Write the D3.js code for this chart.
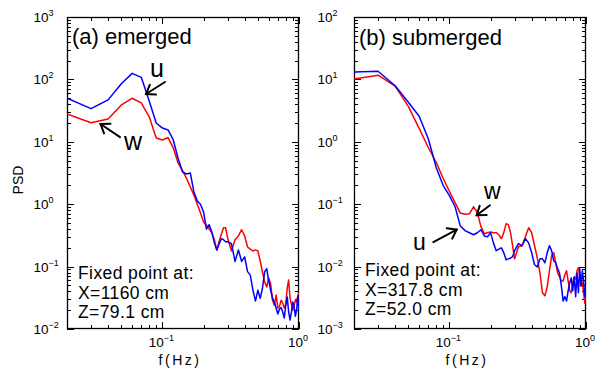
<!DOCTYPE html>
<html><head><meta charset="utf-8">
<script src="https://cdn.jsdelivr.net/npm/d3@7"></script>
<style>
body{margin:0;background:#fff}
svg{display:block}
text{font-family:"Liberation Sans",Arial,Helvetica,sans-serif;fill:#000}
</style>
</head><body>
<svg id="c" width="604" height="371"></svg>
<script>
// ---- data (frequency in Hz, PSD) ----
const freq = [0.02,0.03,0.04,0.05,0.06,0.07,0.08,0.09,0.10,0.11,0.12,0.13,0.14,0.15,0.16,0.17,0.18,0.19,0.20,
  0.21,0.22,0.23,0.24,0.25,0.26,0.27,0.28,0.29,0.30,
  0.32,0.34,0.36,0.38,0.40,0.42,0.44,0.46,0.48,0.50,0.52,0.54,0.56,0.58,0.60,
  0.62,0.64,0.66,0.68,0.70,0.72,0.74,0.76,0.78,0.80,0.82,0.84,0.86,0.88,0.90,0.92,0.94,0.96,0.98,1.00];

const emergedU = [50,34,47,85,125,108,45,20,16.6,15.5,10.7,5.5,3.3,3.05,3.16,1.57,1.12,1.0,0.75,
  0.40,0.47,0.36,0.24,0.185,0.23,0.28,0.27,0.25,0.25,
  0.234,0.121,0.185,0.121,0.143,0.083,0.073,0.042,0.028,0.042,0.031,0.045,0.082,0.093,0.059,
  0.042,0.031,0.027,0.0217,0.0174,0.021,0.022,0.0187,0.015,0.024,0.0326,0.0187,0.0139,0.0187,0.027,0.023,0.016,0.02,0.034,0.02];

const emergedW = [27.9,20.2,23.2,38.9,49.8,42,25.2,11.5,10.7,11.7,8.0,4.6,3.5,2.6,1.89,1.40,1.0,0.72,0.52,
  0.46,0.40,0.345,0.27,0.185,0.25,0.33,0.42,0.42,0.29,
  0.178,0.27,0.31,0.39,0.31,0.206,0.19,0.178,0.185,0.178,0.123,0.082,0.057,0.047,0.066,
  0.053,0.029,0.024,0.035,0.0217,0.023,0.029,0.026,0.0217,0.025,0.045,0.061,0.031,0.025,0.02,0.023,0.029,0.027,0.034,0.038];

const submergedU = [13.2,13.5,7.9,4.3,2.56,1.12,0.387,0.199,0.137,0.091,0.045,0.0377,0.0349,0.0324,0.0349,0.039,0.031,0.030,0.035,
  0.024,0.018,0.019,0.020,0.0167,0.0129,0.0133,0.0137,0.0144,0.018,
  0.0233,0.0216,0.028,0.024,0.0167,0.0107,0.0099,0.0133,0.0133,0.0115,0.0167,0.0216,0.018,0.0124,0.0115,
  0.0092,0.0079,0.0049,0.0028,0.0033,0.0028,0.0041,0.0055,0.0066,0.0041,0.0068,0.0033,0.0079,0.0038,0.0092,0.0049,0.0086,0.0059,0.0033,0.0049];

const submergedW = [10.1,11.7,7.8,3.7,1.64,0.81,0.47,0.258,0.16,0.106,0.072,0.069,0.070,0.091,0.074,0.0437,0.0337,0.035,0.036,
  0.035,0.035,0.0324,0.028,0.035,0.0488,0.047,0.035,0.0216,0.0133,
  0.0208,0.0216,0.030,0.042,0.035,0.0216,0.0137,0.0079,0.0038,0.0034,0.0047,0.0086,0.0149,0.0167,0.0115,
  0.0079,0.0068,0.0059,0.0059,0.0074,0.0086,0.0059,0.0041,0.0038,0.0055,0.0068,0.0063,0.0086,0.0096,0.0071,0.0049,0.0055,0.0038,0.0026,0.0041];

const xTickExps = [-1, 0];
const yTickExpsA = [3, 2, 1, 0, -1, -2];
const yTickExpsB = [2, 1, 0, -1, -2, -3];

// ---- layout ----
const svg = d3.select("#c");
const TOP = 17, BOTTOM = 329, PW = 232;
const BLUE = "#0000ff", RED = "#ff0000";

const panels = [
  { left: 67, labelX: 33.5, yDom: [1e-2, 1e3], yExps: yTickExpsA, u: emergedU, w: emergedW,
    title: "(a) emerged", titleY: 44,
    info: ["Fixed point at:", "X=1160 cm", "Z=79.1 cm"], infoY: 279,
    arrows: [ {label:"u", tail:[0.1044, 90.8], tip:[0.0758, 58.3], text:[0.0811, 109.3], fs: 25},
              {label:"w", tail:[0.0489, 11.9], tip:[0.0352, 19.3], text:[0.0523, 7.39], fs: 25} ] },
  { left: 354, labelX: 317.5, yDom: [1e-3, 1e2], yExps: yTickExpsB, u: submergedU, w: submergedW,
    title: "(b) submerged", titleY: 45,
    info: ["Fixed point at:", "X=317.8 cm", "Z=52.0 cm"], infoY: 276,
    arrows: [ {label:"w", tail:[0.198, 0.096], tip:[0.1583, 0.0664], text:[0.179, 0.12], fs: 23},
              {label:"u", tail:[0.0762, 0.0247], tip:[0.113, 0.0391], text:[0.0541, 0.0182], fs: 23} ] }
];

function supLabel(g, x, y, exp, anchor) {
  const t = g.append("text").attr("x", x).attr("y", y).attr("text-anchor", anchor)
    .style("font-size", "13.5px");
  t.append("tspan").text("10");
  t.append("tspan").attr("dy", -6).style("font-size", "9px")
    .text(exp < 0 ? "\u2212" + Math.abs(exp) : String(exp));
}

panels.forEach((p, pi) => {
  const x = d3.scaleLog().domain([0.02, 1]).range([p.left, p.left + PW]);
  const y = d3.scaleLog().domain(p.yDom).range([BOTTOM, TOP]);
  const g = svg.append("g");

  const clipId = "clip" + pi;
  svg.append("clipPath").attr("id", clipId).append("rect")
    .attr("x", p.left).attr("y", TOP).attr("width", PW).attr("height", BOTTOM - TOP);

  // ticks
  const isMajor = v => Math.abs(Math.log10(v) - Math.round(Math.log10(v))) < 1e-6;
  const xt = x.ticks().filter(v => v >= 0.02 - 1e-9 && v <= 1 + 1e-9);
  const yt = y.ticks();
  const tk = g.append("g").attr("stroke", "#000").attr("stroke-width", 1);
  xt.forEach(v => {
    const L = isMajor(v) ? 7 : 4, px = Math.round(x(v)) + 0.5;
    tk.append("line").attr("x1", px).attr("x2", px).attr("y1", BOTTOM).attr("y2", BOTTOM - L);
    tk.append("line").attr("x1", px).attr("x2", px).attr("y1", TOP).attr("y2", TOP + L);
  });
  yt.forEach(v => {
    const L = isMajor(v) ? 7 : 4, py = Math.round(y(v)) + 0.5;
    tk.append("line").attr("y1", py).attr("y2", py).attr("x1", p.left).attr("x2", p.left + L);
    tk.append("line").attr("y1", py).attr("y2", py).attr("x1", p.left + PW).attr("x2", p.left + PW - L);
  });

  // frame
  g.append("rect").attr("x", p.left + 0.5).attr("y", TOP + 0.5).attr("width", PW - 1).attr("height", BOTTOM - TOP - 1)
    .attr("fill", "none").attr("stroke", "#000").attr("stroke-width", 1.3);

  // tick labels
  p.yExps.forEach(e => supLabel(g, p.labelX, y(Math.pow(10, e)) + 5, e, "start"));
  xTickExps.forEach(e => supLabel(g, x(Math.pow(10, e)) - 1, 347, e, "middle"));

  // x label
  g.append("text").attr("x", p.left + PW / 2 - 3).attr("y", 365).attr("text-anchor", "middle")
    .style("font-size", "14px").style("letter-spacing", "2.5px").text("f(Hz)");

  // series
  const line = d3.line().x((d, i) => x(freq[i])).y(d => y(d));
  const lg = g.append("g").attr("clip-path", `url(#${clipId})`).attr("fill", "none")
    .attr("stroke-width", 1.5).attr("stroke-linejoin", "round");
  lg.append("path").attr("d", line(p.w)).attr("stroke", RED);
  lg.append("path").attr("d", line(p.u)).attr("stroke", BLUE);

  // title
  g.append("text").attr("x", p.left + 5).attr("y", p.titleY).style("font-size", "22px").text(p.title);

  // info block (three stacked lines)
  p.info.forEach((s, i) => g.append("text").attr("x", p.left + 11).attr("y", p.infoY + i * 19.6)
    .style("font-size", "17.5px").style("letter-spacing", "0.4px").text(s));

  // arrows
  p.arrows.forEach(a => {
    const tx = x(a.tail[0]), ty = y(a.tail[1]), hx = x(a.tip[0]), hy = y(a.tip[1]);
    const ang = Math.atan2(ty - hy, tx - hx), hl = 10, spread = 0.62;
    const ag = g.append("g").attr("stroke", "#000").attr("stroke-width", 2).attr("fill", "none")
      .attr("stroke-linecap", "round");
    ag.append("line").attr("x1", tx).attr("y1", ty).attr("x2", hx).attr("y2", hy);
    ag.append("path").attr("d",
      `M${hx + hl * Math.cos(ang - spread)},${hy + hl * Math.sin(ang - spread)}L${hx},${hy}L${hx + hl * Math.cos(ang + spread)},${hy + hl * Math.sin(ang + spread)}`);
    g.append("text").attr("x", x(a.text[0])).attr("y", y(a.text[1])).style("font-size", a.fs + "px").text(a.label);
  });
});

// y axis label
svg.append("text").attr("transform", "translate(23,180) rotate(-90)").attr("text-anchor", "middle")
  .style("font-size", "14px").text("PSD");
</script>
</body></html>
